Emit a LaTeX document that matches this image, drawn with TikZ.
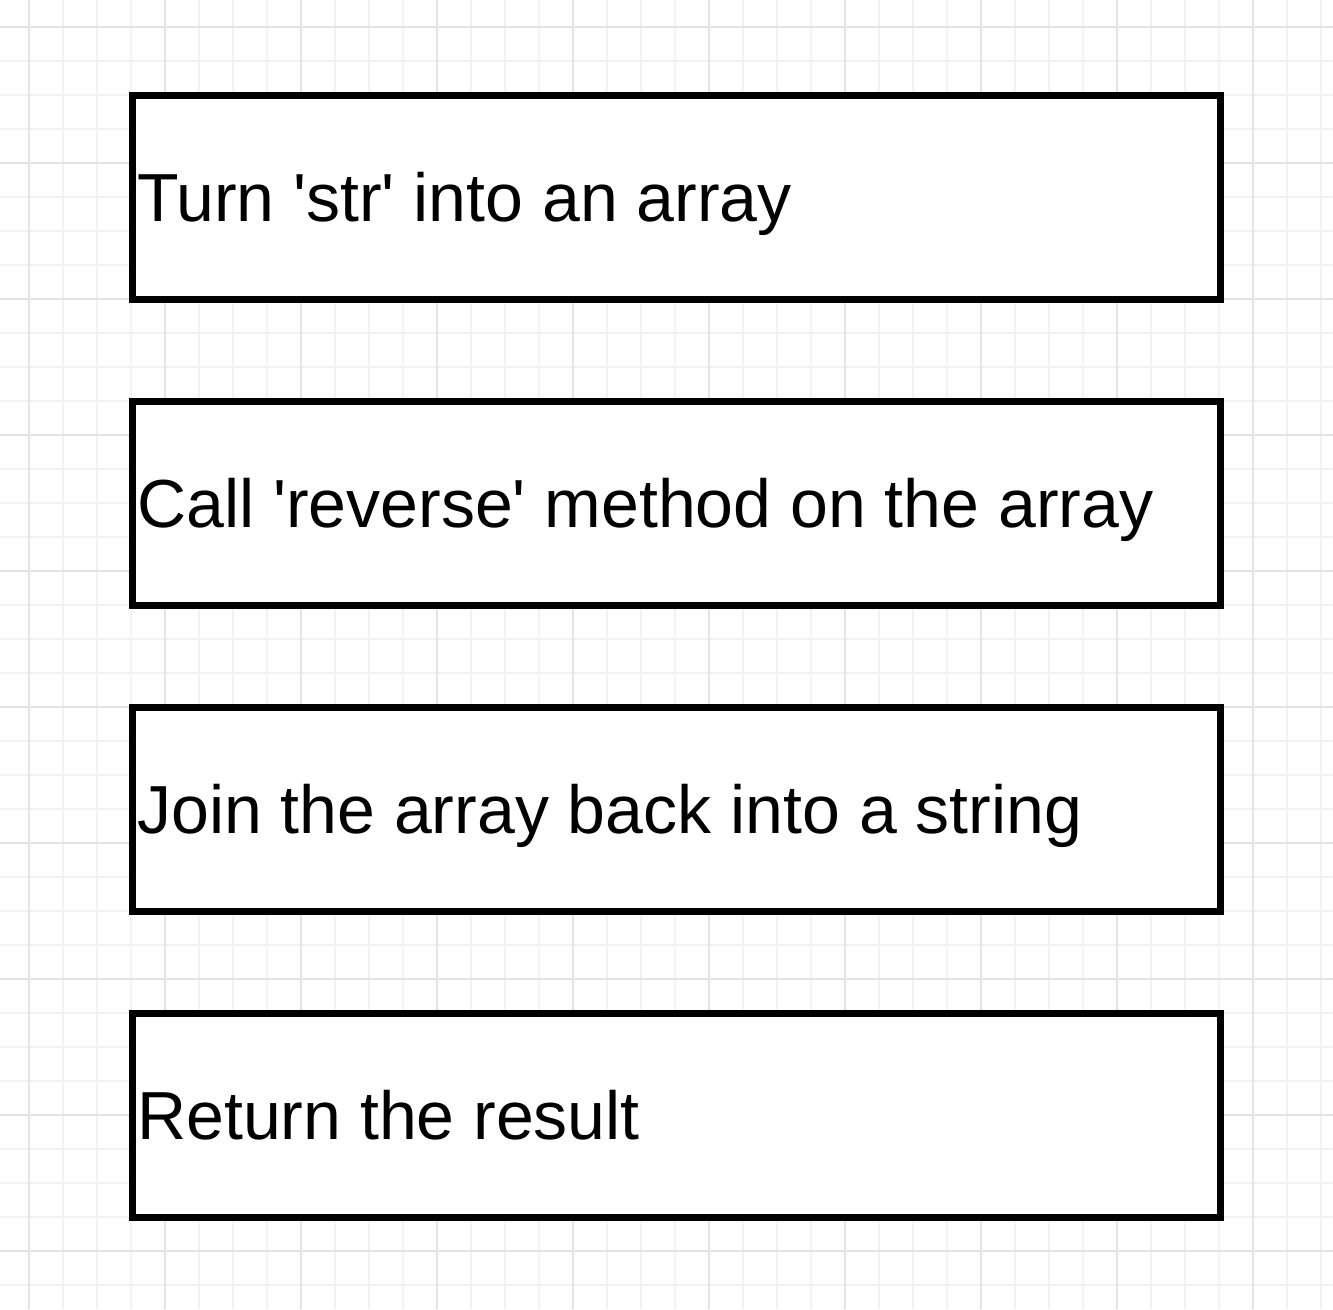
\documentclass[tikz,border=0pt]{standalone}
\usepackage{fontspec}
\setmainfont{Liberation Sans}
\definecolor{gridminor}{HTML}{F2F2F2}
\definecolor{gridmajor}{HTML}{E4E4E4}
\newcommand{\sq}{\textquotesingle}
\begin{document}
\begin{tikzpicture}[x=1pt,y=-1pt,
  stepbox/.style={draw=black,line width=6.5pt,fill=white,minimum width=1088pt,minimum height=204pt,inner sep=0pt,outer sep=0pt},
  steptext/.style={anchor=base west,inner sep=0pt,font=\fontsize{68}{80}\selectfont,text=black}]
\useasboundingbox (0,0) rectangle (1333,1309);
\fill[white] (0,0) rectangle (1333,1309);
\foreach \k in {0,...,38}{
  \pgfmathsetmacro{\xx}{29+34*\k}
  \draw[gridminor,line width=1.2pt] (\xx,0) -- (\xx,1309);
}
\foreach \k in {0,...,37}{
  \pgfmathsetmacro{\yy}{27+34*\k}
  \draw[gridminor,line width=1.2pt] (0,\yy) -- (1333,\yy);
}
\foreach \k in {0,...,9}{
  \pgfmathsetmacro{\xx}{29+136*\k}
  \draw[gridmajor,line width=1.3pt] (\xx,0) -- (\xx,1309);
}
\foreach \k in {0,...,9}{
  \pgfmathsetmacro{\yy}{27+136*\k}
  \draw[gridmajor,line width=1.3pt] (0,\yy) -- (1333,\yy);
}
\node[stepbox] (b1) at (676.5,197.5) {};
\node[stepbox] (b2) at (676.5,503.5) {};
\node[stepbox] (b3) at (676.5,809.5) {};
\node[stepbox] (b4) at (676.5,1115.5) {};
\node[steptext] (t1) at ([xshift=4.5pt,yshift=-24.4pt]b1.west) {Turn \sq str\sq{} into an array};
\node[steptext] (t2) at ([xshift=4.5pt,yshift=-24.4pt]b2.west) {Call \sq reverse\sq{} method on the array};
\node[steptext] (t3) at ([xshift=4.5pt,yshift=-24.4pt]b3.west) {Join the array back into a string};
\node[steptext] (t4) at ([xshift=4.5pt,yshift=-24.4pt]b4.west) {Return the result};
\end{tikzpicture}
\end{document}
